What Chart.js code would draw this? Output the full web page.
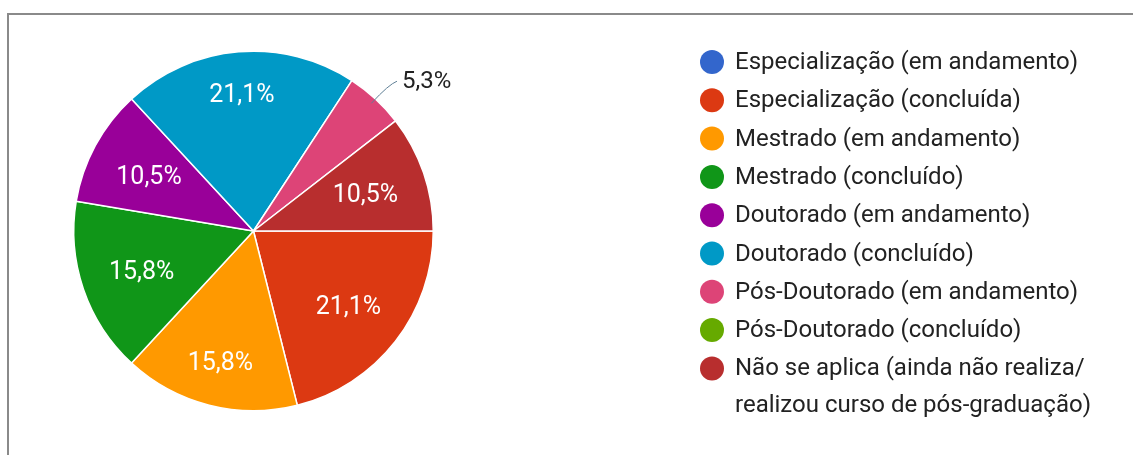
<!DOCTYPE html>
<html>
<head>
<meta charset="utf-8">
<script src="https://cdn.jsdelivr.net/npm/chart.js@4.4.1/dist/chart.umd.min.js"></script>
<style>
  html, body { margin: 0; padding: 0; background: #ffffff; }
  #wrap { position: relative; width: 1133px; height: 455px; overflow: hidden; }
  #frame { position: absolute; left: 7px; top: 13px; width: 1200px; height: 500px;
           border-top: 2px solid #8a8a8a; border-left: 2px solid #8a8a8a; }
  canvas { position: absolute; left: 0; top: 0; }
</style>
</head>
<body>
<div id="wrap">
  <div id="frame"></div>
  <canvas id="c" width="1133" height="455"></canvas>
</div>
<script>
const categories = [
  "Especialização (em andamento)",
  "Especialização (concluída)",
  "Mestrado (em andamento)",
  "Mestrado (concluído)",
  "Doutorado (em andamento)",
  "Doutorado (concluído)",
  "Pós-Doutorado (em andamento)",
  "Pós-Doutorado (concluído)",
  "Não se aplica (ainda não realiza/\nrealizou curso de pós-graduação)"
];
const percentValues = [0, 21.1, 15.8, 15.8, 10.5, 21.1, 5.3, 0, 10.5];
const sliceColors = ["#3366cc", "#dc3912", "#ff9900", "#109618", "#990099",
                     "#0099c6", "#dd4477", "#66aa00", "#b82e2e"];

const FONT = "Roboto, 'Liberation Sans', Arial, sans-serif";

const sliceLabels = {
  id: 'sliceLabels',
  afterDatasetsDraw(chart) {
    const ctx = chart.ctx;
    const meta = chart.getDatasetMeta(0);
    ctx.save();
    meta.data.forEach((arc, i) => {
      const v = percentValues[i];
      if (!v) return;
      const p = arc.getProps(['x', 'y', 'startAngle', 'endAngle', 'outerRadius'], true);
      const mid = (p.startAngle + p.endAngle) / 2;
      const cos = Math.cos(mid), sin = Math.sin(mid);
      const text = v.toFixed(1).replace('.', ',') + '%';
      if (v < 8) {
        ctx.font = '24px ' + FONT;
        const sx = p.x + (p.outerRadius - 6) * cos, sy = p.y + (p.outerRadius - 6) * sin;
        const mx = p.x + (p.outerRadius + 20) * cos, my = p.y + (p.outerRadius + 20) * sin;
        const ex = mx + 8, ey = my - 3;
        ctx.strokeStyle = '#5f7f95';
        ctx.lineWidth = 1;
        ctx.beginPath();
        ctx.moveTo(sx, sy);
        ctx.quadraticCurveTo(mx, my, ex, ey);
        ctx.stroke();
        ctx.fillStyle = '#222222';
        ctx.textAlign = 'left';
        ctx.textBaseline = 'middle';
        ctx.fillText(text, ex + 5, ey + 1);
      } else {
        ctx.font = '25px ' + FONT;
        const w = ctx.measureText(text).width;
        const h = 22;
        const d = 0.85 * p.outerRadius - (w / 2 * Math.abs(cos) + h / 2 * Math.abs(sin));
        ctx.fillStyle = '#ffffff';
        ctx.textAlign = 'center';
        ctx.textBaseline = 'middle';
        ctx.fillText(text, p.x + d * cos, p.y + d * sin + 3);
      }
    });
    ctx.restore();
  }
};

const sideLegend = {
  id: 'sideLegend',
  afterDraw(chart) {
    const ctx = chart.ctx;
    ctx.save();
    ctx.font = '24px ' + FONT;
    ctx.textBaseline = 'middle';
    ctx.textAlign = 'left';
    let y = 62;
    categories.forEach((label, i) => {
      ctx.fillStyle = sliceColors[i];
      ctx.beginPath();
      ctx.arc(712, y, 12, 0, Math.PI * 2);
      ctx.fill();
      ctx.fillStyle = '#222222';
      const lines = label.split('\n');
      lines.forEach((ln, k) => {
        ctx.fillText(ln, 735, y + 1 + k * 37);
      });
      y += 38.3 + (lines.length - 1) * 37;
    });
    ctx.restore();
  }
};

new Chart(document.getElementById('c'), {
  type: 'pie',
  data: {
    labels: categories,
    datasets: [{
      data: percentValues,
      backgroundColor: sliceColors,
      borderColor: '#ffffff',
      borderWidth: 1.5
    }]
  },
  options: {
    responsive: false,
    devicePixelRatio: 1,
    animation: false,
    rotation: 90,
    layout: { padding: { left: 73, right: 699, top: 50, bottom: 43 } },
    plugins: {
      legend: { display: false },
      tooltip: { enabled: false }
    }
  },
  plugins: [sliceLabels, sideLegend]
});
</script>
</body>
</html>
